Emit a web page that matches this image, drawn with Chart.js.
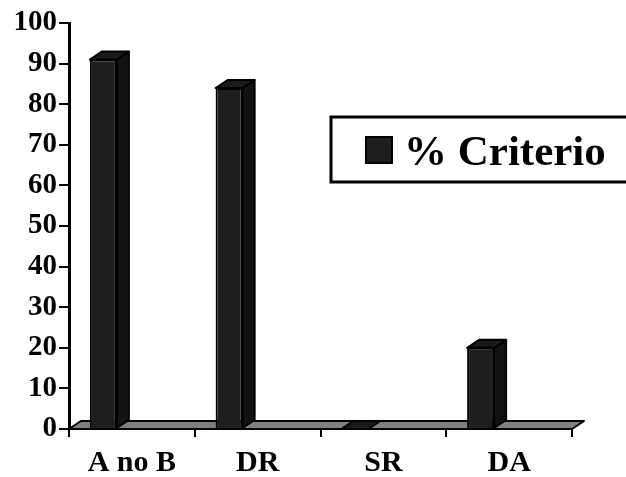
<!DOCTYPE html>
<html>
<head>
<meta charset="utf-8">
<script src="https://cdn.jsdelivr.net/npm/chart.js@4"></script>
<style>
  html, body { margin: 0; padding: 0; background: #fff; }
  #wrap { width: 626px; height: 477px; position: relative; }
</style>
</head>
<body>
<div id="wrap"><canvas id="chart"></canvas></div>
<script>
const categories = ['A no B', 'DR', 'SR', 'DA'];
const criterio = [91, 84, 0, 20];
const spacer = [null, null, null, null];
const seriesLabel = '% Criterio';

const FONT = '"Liberation Serif", "Times New Roman", serif';
const DX = 12, DY = -8;

function poly(ctx, pts, fill) {
  ctx.beginPath();
  ctx.moveTo(pts[0][0], pts[0][1]);
  for (let i = 1; i < pts.length; i++) ctx.lineTo(pts[i][0], pts[i][1]);
  ctx.closePath();
  ctx.fillStyle = fill;
  ctx.fill();
  ctx.stroke();
}

// floor + side/top faces for the pseudo 3D look
const bar3d = {
  id: 'bar3d',
  beforeDatasetsDraw(chart) {
    const { ctx } = chart;
    const xs = chart.scales.x, ys = chart.scales.y;
    const y0 = ys.getPixelForValue(0);
    ctx.save();
    ctx.strokeStyle = '#000';
    ctx.lineWidth = 2;
    ctx.lineJoin = 'round';
    poly(ctx, [[xs.left, y0], [xs.right, y0], [xs.right + DX, y0 + DY], [xs.left + DX, y0 + DY]], '#808080');
    ctx.restore();
  },
  afterDatasetsDraw(chart) {
    const { ctx } = chart;
    const meta = chart.getDatasetMeta(0);
    ctx.save();
    ctx.strokeStyle = '#000';
    ctx.lineWidth = 2;
    ctx.lineJoin = 'round';
    meta.data.forEach((bar) => {
      const p = bar.getProps(['x', 'y', 'base', 'width'], true);
      const l = p.x - p.width / 2, r = p.x + p.width / 2;
      const t = Math.min(p.y, p.base), b = Math.max(p.y, p.base);
      if (b - t > 0.5) {
        poly(ctx, [[r, t], [r + DX, t + DY], [r + DX, b + DY], [r, b]], '#121212');
      }
      poly(ctx, [[l, t], [l + DX, t + DY], [r + DX, t + DY], [r, t]], '#1a1a1a');
    });
    ctx.restore();
  }
};

const boxLegend = {
  id: 'boxLegend',
  afterDraw(chart) {
    const { ctx } = chart;
    const ds = chart.data.datasets[0];
    ctx.save();
    ctx.strokeStyle = '#000';
    ctx.lineWidth = 3;
    ctx.fillStyle = '#fff';
    ctx.fillRect(331, 117, 300, 65);
    ctx.strokeRect(331, 117, 300, 65);
    ctx.lineWidth = 2;
    ctx.fillStyle = ds.backgroundColor;
    ctx.fillRect(366, 137, 26, 26);
    ctx.strokeRect(366, 137, 26, 26);
    ctx.fillStyle = '#000';
    ctx.font = 'bold 43px ' + FONT;
    ctx.textBaseline = 'alphabetic';
    ctx.fillText(ds.label, 404, 165);
    ctx.restore();
  }
};

new Chart(document.getElementById('chart'), {
  type: 'bar',
  data: {
    labels: categories,
    datasets: [
      {
        label: seriesLabel,
        data: criterio,
        backgroundColor: '#1e1e1e',
        borderColor: '#000',
        borderWidth: 2,
        categoryPercentage: 0.907,
        barPercentage: 0.474
      },
      {
        label: '',
        data: spacer,
        categoryPercentage: 0.907,
        barPercentage: 0.474
      }
    ]
  },
  options: {
    responsive: true,
    maintainAspectRatio: false,
    animation: false,
    devicePixelRatio: 1,
    layout: { padding: { left: 0, top: 23, right: 54, bottom: 0 } },
    plugins: { legend: { display: false }, tooltip: { enabled: false } },
    scales: {
      x: {
        afterFit: (s) => { s.height = 48; },
        grid: { display: true, drawOnChartArea: false, drawTicks: true, tickLength: 8, color: '#000', lineWidth: 2, offset: true },
        border: { display: true, color: '#000', width: 2 },
        ticks: { color: '#000', padding: 8, font: { family: FONT, size: 30, weight: 'bold' }, maxRotation: 0 }
      },
      y: {
        min: 0,
        max: 100,
        afterFit: (s) => { s.width = 69; },
        grid: { display: true, drawOnChartArea: false, drawTicks: true, tickLength: 10, color: '#000', lineWidth: 2 },
        border: { display: true, color: '#000', width: 3 },
        ticks: { stepSize: 10, color: '#000', padding: 2, font: { family: FONT, size: 29, weight: 'bold' } }
      }
    }
  },
  plugins: [bar3d, boxLegend]
});
</script>
</body>
</html>
